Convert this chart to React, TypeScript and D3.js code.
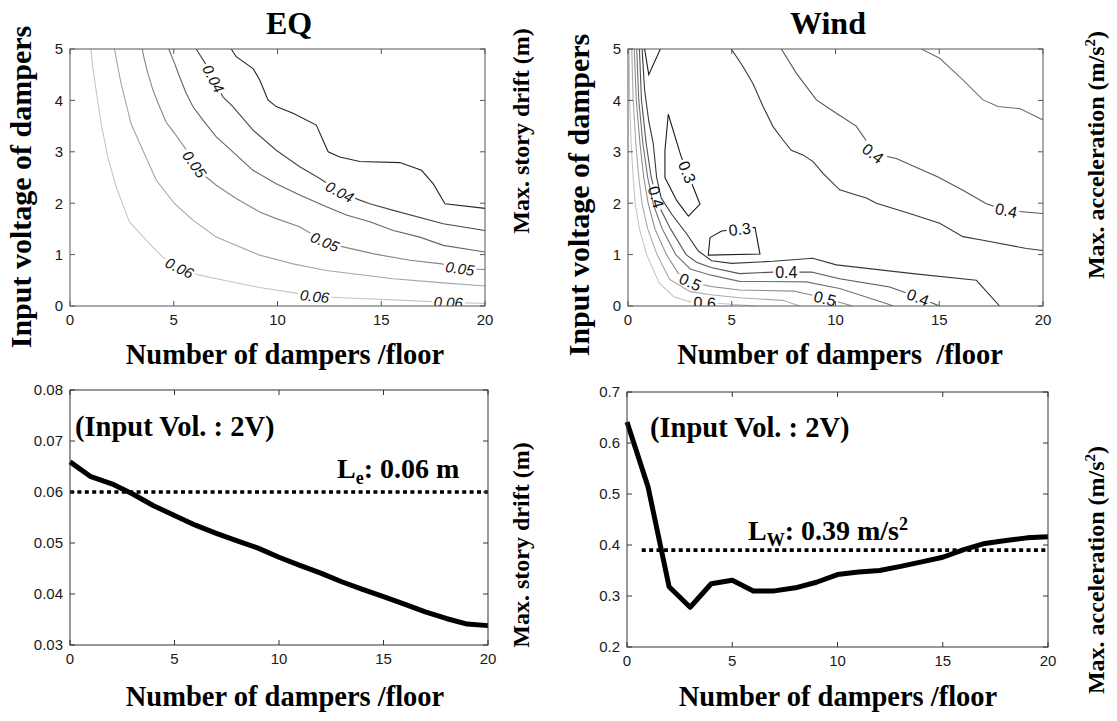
import React from "react";
import * as d3 from "d3";

type Pt = [number, number];

const W = 1117;
const H = 721;

// ---------- axis ticks ----------
const damperTicks = [0, 5, 10, 15, 20];
const voltageTicks = [0, 1, 2, 3, 4, 5];
const driftTicks = [0.03, 0.04, 0.05, 0.06, 0.07, 0.08];
const accTicks = [0.2, 0.3, 0.4, 0.5, 0.6, 0.7];

// ---------- EQ: max. story drift contours (x = dampers/floor, y = input voltage) ----------
const eqDrift035: Pt[] = [[7.77, 5.0], [8.01, 4.85], [8.82, 4.62], [9.14, 4.4], [9.54, 4.01], [9.94, 3.88], [10.75, 3.75], [11.87, 3.52], [12.44, 3.0], [13.0, 2.9], [13.97, 2.81], [15.9, 2.79], [16.94, 2.64], [17.5, 2.38], [18.07, 1.99], [20, 1.9]];
const eqDrift040: Pt[] = [[6.08, 5.0], [6.52, 4.72], [7.37, 4.07], [7.85, 3.88], [8.82, 3.42], [9.94, 3.03], [11.07, 2.71], [12.04, 2.48], [13.0, 2.22], [13.97, 2.06], [14.45, 1.99], [15.58, 1.86], [17.99, 1.6], [20, 1.47]];
const eqDrift045: Pt[] = [[4.76, 5.0], [5.04, 4.72], [5.28, 4.46], [5.6, 4.14], [5.92, 3.88], [6.4, 3.62], [7.05, 3.29], [7.85, 3.0], [8.82, 2.64], [9.94, 2.38], [11.07, 2.16], [12.36, 1.93], [13.32, 1.77], [14.45, 1.64], [15.58, 1.47], [16.86, 1.34], [17.99, 1.18], [20, 1.05]];
const eqDrift050: Pt[] = [[3.48, 5.0], [3.59, 4.79], [3.75, 4.53], [3.99, 4.21], [4.31, 3.88], [4.63, 3.58], [5.04, 3.36], [5.57, 3.06], [6.0, 2.76], [6.56, 2.51], [7.05, 2.35], [8.01, 2.09], [9.14, 1.83], [9.94, 1.7], [11.07, 1.54], [12.28, 1.25], [13.16, 1.15], [14.71, 1.01], [16.38, 0.89], [17.92, 0.82], [18.79, 0.73], [20, 0.71]];
const eqDrift055: Pt[] = [[2.14, 5.0], [2.3, 4.66], [2.46, 4.33], [2.7, 3.94], [2.94, 3.55], [3.51, 3.03], [4.15, 2.45], [5.04, 1.99], [5.92, 1.67], [7.05, 1.34], [9.14, 0.99], [10.75, 0.82], [12.36, 0.69], [15.58, 0.53], [17.99, 0.45], [20, 0.39]];
const eqDrift060: Pt[] = [[1.01, 5.0], [1.09, 4.66], [1.26, 4.2], [1.5, 3.55], [1.82, 2.9], [2.22, 2.32], [2.86, 1.64], [3.67, 1.28], [4.47, 0.95], [5.28, 0.74], [6.24, 0.6], [7.53, 0.49], [9.14, 0.36], [10.75, 0.26], [11.79, 0.19], [13.16, 0.16], [15.58, 0.12], [18.23, 0.07], [20, 0.05]];

const eqLabels = [
  { level: 0.04, x: 6.81, v: 4.4 },
  { level: 0.04, x: 13.0, v: 2.22 },
  { level: 0.05, x: 6.0, v: 2.76 },
  { level: 0.05, x: 12.28, v: 1.25 },
  { level: 0.05, x: 18.79, v: 0.72 },
  { level: 0.06, x: 5.28, v: 0.74 },
  { level: 0.06, x: 11.79, v: 0.19 },
  { level: 0.06, x: 18.23, v: 0.07 },
];

// ---------- Wind: max. acceleration contours ----------
const windAcc030Top: Pt[] = [[0.8, 5], [1.0, 4.5], [1.56, 5]];
const windAcc030Upper: Pt[] = [[1.94, 3.73], [2.55, 2.92], [3.47, 1.98], [2.91, 1.75], [2.35, 2.05], [1.78, 2.5], [1.78, 3.02], [1.94, 3.73]];
const windAcc030Lower: Pt[] = [[3.95, 1.33], [4.51, 1.46], [6.12, 1.53], [6.36, 1.01], [3.87, 0.99], [3.95, 1.33]];
const windAcc035Valley: Pt[] = [[0.68, 5], [0.8, 4.2], [1.0, 3.6], [1.22, 3.15], [1.38, 2.5], [1.6, 2.1], [2.1, 1.79], [2.83, 1.4], [3.39, 1.07], [4.03, 0.88], [5.0, 0.83], [6.99, 0.87], [8.9, 0.93], [10.04, 0.8], [13.73, 0.63], [16.79, 0.5], [17.91, 0.0]];
const windAcc035Ridge: Pt[] = [[4.98, 5], [5.54, 4.66], [6.02, 4.33], [6.51, 3.88], [6.99, 3.49], [7.47, 3.23], [7.87, 3.03], [8.43, 2.94], [8.92, 2.81], [9.4, 2.58], [10.2, 2.26], [11.0, 2.16], [11.49, 2.1], [11.97, 2.0], [13.57, 1.8], [15.02, 1.61], [16.14, 1.35], [17.11, 1.28], [19.2, 1.12], [20, 1.08]];
const windAcc040Valley: Pt[] = [[0.55, 5], [0.65, 4], [0.88, 3.15], [1.12, 2.5], [1.45, 1.98], [2.05, 1.5], [2.8, 1.0], [3.3, 0.85], [4.0, 0.75], [5.38, 0.63], [6.99, 0.66], [8.84, 0.66], [10.2, 0.53], [12.61, 0.37], [13.73, 0.21], [15.02, 0.0]];
const windAcc040Ridge: Pt[] = [[7.39, 5], [8.11, 4.53], [9.08, 4.01], [10.04, 3.75], [11.0, 3.5], [11.49, 3.21], [11.81, 2.97], [12.93, 2.87], [14.94, 2.51], [16.14, 2.25], [17.27, 1.99], [18.23, 1.86], [20, 1.8]];
const windAcc045Valley: Pt[] = [[0.42, 5], [0.52, 4], [0.72, 3.15], [0.95, 2.5], [1.22, 1.98], [1.65, 1.5], [2.3, 1.0], [3.0, 0.72], [4.0, 0.6], [5.38, 0.48], [8.59, 0.47], [10.2, 0.34], [12.45, 0.05], [12.77, 0]];
const windAcc045Ridge: Pt[] = [[14.14, 5], [15.02, 4.82], [16.14, 4.4], [17.11, 4.01], [17.83, 3.88], [18.88, 3.84], [20, 3.62]];
const windAcc050: Pt[] = [[0.3, 5], [0.4, 4], [0.58, 3.15], [0.76, 2.5], [0.98, 1.98], [1.3, 1.5], [1.85, 1.0], [2.4, 0.65], [3.0, 0.47], [4.0, 0.38], [5.38, 0.31], [8.0, 0.29], [9.0, 0.2], [10.5, 0.04], [10.8, 0]];
const windAcc055: Pt[] = [[0.18, 5], [0.25, 4], [0.38, 3.15], [0.52, 2.5], [0.68, 1.98], [0.95, 1.5], [1.4, 1.0], [2.0, 0.52], [3.0, 0.28], [4.0, 0.22], [5.38, 0.16], [7.47, 0.11], [8.27, 0]];
const windAcc060: Pt[] = [[0.05, 5], [0.08, 4], [0.15, 3.15], [0.25, 2.5], [0.35, 1.98], [0.55, 1.5], [0.9, 1.0], [1.5, 0.45], [2.2, 0.18], [3.0, 0.08], [4.5, 0.05], [6.2, 0]];

const windLabels = [
  { level: 0.3, x: 2.81, v: 2.6 },
  { level: 0.3, x: 5.38, v: 1.49 },
  { level: 0.4, x: 1.37, v: 2.12 },
  { level: 0.4, x: 7.63, v: 0.66 },
  { level: 0.4, x: 13.98, v: 0.17 },
  { level: 0.4, x: 11.81, v: 2.97 },
  { level: 0.4, x: 18.23, v: 1.86 },
  { level: 0.5, x: 2.99, v: 0.45 },
  { level: 0.5, x: 9.48, v: 0.13 },
  { level: 0.6, x: 3.7, v: 0.07 },
];

// ---------- Input voltage 2 V: response vs number of dampers ----------
const dampers = [0, 1, 2, 3, 4, 5, 6, 7, 8, 9, 10, 11, 12, 13, 14, 15, 16, 17, 18, 19, 20];
const eqDrift2V = [0.0659, 0.063, 0.0616, 0.0596, 0.0573, 0.0554, 0.0535, 0.0519, 0.0504, 0.049, 0.0472, 0.0456, 0.0441, 0.0424, 0.0409, 0.0395, 0.038, 0.0365, 0.0352, 0.0341, 0.0338];
const windAcc2V = [0.641, 0.514, 0.318, 0.278, 0.324, 0.331, 0.31, 0.31, 0.316, 0.327, 0.342, 0.347, 0.35, 0.358, 0.367, 0.376, 0.391, 0.403, 0.409, 0.414, 0.416];
const eqLimit = 0.06;
const windLimit = 0.39;
const eqLimitSpan = [0, 20];
const windLimitSpan = [0.7, 20];

// ---------- helpers ----------
type Box = { x0: number; x1: number; y0: number; y1: number };
type Contour = { level: number; pts: Pt[] };
type LabelSpec = { level: number; x: number; v: number };

const SANS = "'Liberation Sans', Arial, sans-serif";
const SERIF = "'Liberation Serif', 'Times New Roman', serif";

function textWidth(s: string, fs: number) {
  let w = 0;
  for (const c of s) w += c === "." ? 0.278 : 0.556;
  return w * fs;
}

function pathLengths(pts: Pt[]) {
  const cum = [0];
  for (let i = 1; i < pts.length; i++) {
    cum.push(cum[i - 1] + Math.hypot(pts[i][0] - pts[i - 1][0], pts[i][1] - pts[i - 1][1]));
  }
  return cum;
}

function pointAt(pts: Pt[], cum: number[], s: number): Pt {
  const total = cum[cum.length - 1];
  const ss = Math.max(0, Math.min(total, s));
  for (let i = 1; i < pts.length; i++) {
    if (ss <= cum[i] || i === pts.length - 1) {
      const seg = cum[i] - cum[i - 1] || 1;
      const t = (ss - cum[i - 1]) / seg;
      return [pts[i - 1][0] + t * (pts[i][0] - pts[i - 1][0]), pts[i - 1][1] + t * (pts[i][1] - pts[i - 1][1])];
    }
  }
  return pts[pts.length - 1];
}

function Axes({ box, xTicks, yTicks, yDomain, yFmt, stroke }: {
  box: Box; xTicks: number[]; yTicks: number[]; yDomain: [number, number]; yFmt: (v: number) => string; stroke: string;
}) {
  const xs = d3.scaleLinear().domain([0, 20]).range([box.x0, box.x1]);
  const ys = d3.scaleLinear().domain(yDomain).range([box.y1, box.y0]);
  const t = 5;
  return (
    <g fontFamily={SANS} fontSize={15} fill="#1a1a1a">
      {xTicks.map((v) => (
        <g key={"x" + v}>
          <line x1={xs(v)} x2={xs(v)} y1={box.y1} y2={box.y1 - t} stroke={stroke} />
          <line x1={xs(v)} x2={xs(v)} y1={box.y0} y2={box.y0 + t} stroke={stroke} />
          <text x={xs(v)} y={box.y1 + 19} textAnchor="middle">{v}</text>
        </g>
      ))}
      {yTicks.map((v) => (
        <g key={"y" + v}>
          <line x1={box.x0} x2={box.x0 + t} y1={ys(v)} y2={ys(v)} stroke={stroke} />
          <line x1={box.x1} x2={box.x1 - t} y1={ys(v)} y2={ys(v)} stroke={stroke} />
          <text x={box.x0 - 7} y={ys(v)} dy="0.36em" textAnchor="end">{yFmt(v)}</text>
        </g>
      ))}
      <rect x={box.x0} y={box.y0} width={box.x1 - box.x0} height={box.y1 - box.y0} fill="none" stroke={stroke} />
    </g>
  );
}

function ContourPanel({ id, box, contours, labels, italic, fontSize, fmt, shade }: {
  id: string; box: Box; contours: Contour[]; labels: LabelSpec[]; italic: boolean; fontSize: number;
  fmt: (v: number) => string; shade: (v: number) => string;
}) {
  const xs = d3.scaleLinear().domain([0, 20]).range([box.x0, box.x1]);
  const ys = d3.scaleLinear().domain([0, 5]).range([box.y1, box.y0]);
  const line = d3.line<Pt>().x((d) => xs(d[0])).y((d) => ys(d[1]));
  const screen = contours.map((c) => c.pts.map(([a, b]) => [xs(a), ys(b)] as Pt));
  const cums = screen.map(pathLengths);

  // snap each label onto the nearest stretch of a line of the same level
  const placed = labels.map((l) => {
    const text = fmt(l.level);
    const w = textWidth(text, fontSize);
    const tx = xs(l.x);
    const ty = ys(l.v);
    let best = { d: Infinity, path: 0, s: 0 };
    screen.forEach((pts, pi) => {
      if (Math.abs(contours[pi].level - l.level) > 1e-9) return;
      for (let i = 0; i < pts.length - 1; i++) {
        const [x1, y1] = pts[i];
        const [x2, y2] = pts[i + 1];
        const dx = x2 - x1;
        const dy = y2 - y1;
        const len2 = dx * dx + dy * dy || 1;
        const t = Math.max(0, Math.min(1, ((tx - x1) * dx + (ty - y1) * dy) / len2));
        const px = x1 + t * dx;
        const py = y1 + t * dy;
        const d = (px - tx) ** 2 + (py - ty) ** 2;
        if (d < best.d) best = { d, path: pi, s: cums[pi][i] + t * Math.sqrt(len2) };
      }
    });
    const pts = screen[best.path];
    const cum = cums[best.path];
    const a = pointAt(pts, cum, best.s - w / 2);
    const b = pointAt(pts, cum, best.s + w / 2);
    let ang = (Math.atan2(b[1] - a[1], b[0] - a[0]) * 180) / Math.PI;
    if (ang > 90) ang -= 180;
    if (ang < -90) ang += 180;
    const c = pointAt(pts, cum, best.s);
    return { text, w, path: best.path, cx: c[0], cy: c[1], ang };
  });

  return (
    <g>
      <defs>
        <clipPath id={`${id}-clip`}>
          <rect x={box.x0} y={box.y0} width={box.x1 - box.x0} height={box.y1 - box.y0} />
        </clipPath>
        {contours.map((c, i) => {
          const mine = placed.filter((p) => p.path === i);
          if (!mine.length) return null;
          return (
            <mask key={i} id={`${id}-m${i}`} maskUnits="userSpaceOnUse" x={0} y={0} width={W} height={H}>
              <rect x={0} y={0} width={W} height={H} fill="white" />
              {mine.map((p, k) => (
                <rect key={k} x={-p.w / 2 - 2} y={-fontSize * 0.45} width={p.w + 4} height={fontSize * 0.9} fill="black"
                  transform={`translate(${p.cx},${p.cy}) rotate(${p.ang})`} />
              ))}
            </mask>
          );
        })}
      </defs>
      <g clipPath={`url(#${id}-clip)`}>
        {contours.map((c, i) => (
          <path key={i} d={line(c.pts) || ""} fill="none" stroke={shade(c.level)} strokeWidth={1.1}
            mask={placed.some((p) => p.path === i) ? `url(#${id}-m${i})` : undefined} />
        ))}
        {placed.map((p, k) => (
          <text key={k} transform={`translate(${p.cx},${p.cy}) rotate(${p.ang})`} textAnchor="middle" dy="0.36em"
            fontFamily={SANS} fontSize={fontSize} fontStyle={italic ? "italic" : "normal"} fill="#111">
            {p.text}
          </text>
        ))}
      </g>
    </g>
  );
}

function LinePanel({ box, values, yDomain, limit, limitSpan }: {
  box: Box; values: number[]; yDomain: [number, number]; limit: number; limitSpan: number[];
}) {
  const xs = d3.scaleLinear().domain([0, 20]).range([box.x0, box.x1]);
  const ys = d3.scaleLinear().domain(yDomain).range([box.y1, box.y0]);
  const line = d3.line<number>().x((_, i) => xs(dampers[i])).y((d) => ys(d));
  return (
    <g>
      <line x1={xs(limitSpan[0])} x2={xs(limitSpan[1])} y1={ys(limit)} y2={ys(limit)} stroke="#000" strokeWidth={3.6}
        strokeDasharray="4 3.4" />
      <path d={line(values) || ""} fill="none" stroke="#000" strokeWidth={5} strokeLinejoin="round" strokeLinecap="butt" />
    </g>
  );
}

const TL: Box = { x0: 70, x1: 485, y0: 49, y1: 306 };
const TR: Box = { x0: 628, x1: 1043, y0: 49, y1: 306 };
const BL: Box = { x0: 70, x1: 488, y0: 390, y1: 645 };
const BR: Box = { x0: 627, x1: 1048, y0: 392, y1: 647 };

export default function App() {
  const eqContours: Contour[] = [
    { level: 0.035, pts: eqDrift035 },
    { level: 0.04, pts: eqDrift040 },
    { level: 0.045, pts: eqDrift045 },
    { level: 0.05, pts: eqDrift050 },
    { level: 0.055, pts: eqDrift055 },
    { level: 0.06, pts: eqDrift060 },
  ];
  const windContours: Contour[] = [
    { level: 0.3, pts: windAcc030Top },
    { level: 0.3, pts: windAcc030Upper },
    { level: 0.3, pts: windAcc030Lower },
    { level: 0.35, pts: windAcc035Valley },
    { level: 0.35, pts: windAcc035Ridge },
    { level: 0.4, pts: windAcc040Valley },
    { level: 0.4, pts: windAcc040Ridge },
    { level: 0.45, pts: windAcc045Valley },
    { level: 0.45, pts: windAcc045Ridge },
    { level: 0.5, pts: windAcc050 },
    { level: 0.55, pts: windAcc055 },
    { level: 0.6, pts: windAcc060 },
  ];
  const eqShade = d3.scaleLinear<string>().domain([0.035, 0.06]).range(["#262626", "#c6c6c6"]);
  const windShade = d3.scaleLinear<string>().domain([0.3, 0.6]).range(["#1c1c1c", "#c6c6c6"]);
  const f2 = d3.format(".2f");
  const f1 = d3.format(".1f");

  const labelStyle = { fontFamily: SERIF, fontWeight: 700 as const, fill: "#000" };

  return (
    <svg width={W} height={H} viewBox={`0 0 ${W} ${H}`} style={{ position: "absolute", left: 0, top: 0, background: "#fff" }}>
      <rect x={0} y={0} width={W} height={H} fill="#fff" />

      {/* titles */}
      <text x={289} y={34} textAnchor="middle" fontSize={32} {...labelStyle}>EQ</text>
      <text x={828} y={34} textAnchor="middle" fontSize={32} {...labelStyle}>Wind</text>

      {/* contour maps */}
      <ContourPanel id="eq" box={TL} contours={eqContours} labels={eqLabels} italic={true} fontSize={15} fmt={f2} shade={eqShade} />
      <Axes box={TL} xTicks={damperTicks} yTicks={voltageTicks} yDomain={[0, 5]} yFmt={(v) => String(v)} stroke="#555" />
      <ContourPanel id="wind" box={TR} contours={windContours} labels={windLabels} italic={false} fontSize={16} fmt={f1} shade={windShade} />
      <Axes box={TR} xTicks={damperTicks} yTicks={voltageTicks} yDomain={[0, 5]} yFmt={(v) => String(v)} stroke="#555" />

      {/* 2 V response curves */}
      <LinePanel box={BL} values={eqDrift2V} yDomain={[0.03, 0.08]} limit={eqLimit} limitSpan={eqLimitSpan} />
      <Axes box={BL} xTicks={damperTicks} yTicks={driftTicks} yDomain={[0.03, 0.08]} yFmt={f2} stroke="#333" />
      <LinePanel box={BR} values={windAcc2V} yDomain={[0.2, 0.7]} limit={windLimit} limitSpan={windLimitSpan} />
      <Axes box={BR} xTicks={damperTicks} yTicks={accTicks} yDomain={[0.2, 0.7]} yFmt={f1} stroke="#333" />

      {/* annotations */}
      <text x={75} y={436} fontSize={28.5} {...labelStyle}>(Input Vol. : 2V)</text>
      <text x={337} y={478} fontSize={28} {...labelStyle}>
        L<tspan fontSize={18} dy={6}>e</tspan><tspan dy={-6}>: {f2(eqLimit)} m</tspan>
      </text>
      <text x={650} y={437} fontSize={28.5} {...labelStyle}>(Input Vol. : 2V)</text>
      <text x={748} y={540} fontSize={28} {...labelStyle}>
        L<tspan fontSize={18} dy={6}>W</tspan><tspan dy={-6}>: {f2(windLimit)} m/s</tspan>
        <tspan fontSize={18} dy={-10}>2</tspan>
      </text>

      {/* x-axis titles */}
      <text x={285} y={364} textAnchor="middle" fontSize={28.5} {...labelStyle}>Number of dampers /floor</text>
      <text x={840} y={364} textAnchor="middle" fontSize={28.5} {...labelStyle} style={{ whiteSpace: "pre" }}>{"Number of dampers  /floor"}</text>
      <text x={285} y={706} textAnchor="middle" fontSize={28.5} {...labelStyle}>Number of dampers /floor</text>
      <text x={838} y={706} textAnchor="middle" fontSize={28.5} {...labelStyle}>Number of dampers /floor</text>

      {/* y-axis titles */}
      <text transform="translate(31,187) rotate(-90)" textAnchor="middle" fontSize={30} {...labelStyle}>Input voltage of dampers</text>
      <text transform="translate(529,131) rotate(-90)" textAnchor="middle" fontSize={24} {...labelStyle}>Max. story drift (m)</text>
      <text transform="translate(529,545) rotate(-90)" textAnchor="middle" fontSize={24} {...labelStyle}>Max. story drift (m)</text>
      <text transform="translate(589,195) rotate(-90)" textAnchor="middle" fontSize={30} {...labelStyle}>Input voltage of dampers</text>
      <text transform="translate(1104,155) rotate(-90)" textAnchor="middle" fontSize={24} {...labelStyle}>
        Max. acceleration (m/s<tspan fontSize={15} dy={-9}>2</tspan><tspan dy={9}>)</tspan>
      </text>
      <text transform="translate(1104,570) rotate(-90)" textAnchor="middle" fontSize={24} {...labelStyle}>
        Max. acceleration (m/s<tspan fontSize={15} dy={-9}>2</tspan><tspan dy={9}>)</tspan>
      </text>
    </svg>
  );
}
